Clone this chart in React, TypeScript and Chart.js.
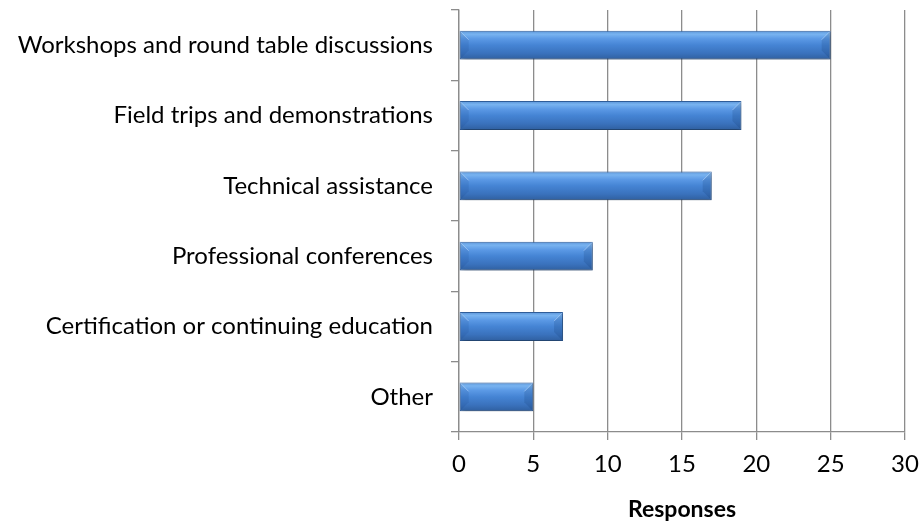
import React, { useEffect, useRef } from "react";
import { Chart, registerables } from "chart.js";

Chart.register(...registerables);

const categories = [
  "Workshops and round table discussions",
  "Field trips and demonstrations",
  "Technical assistance",
  "Professional conferences",
  "Certification or continuing education",
  "Other",
];
const responses = [25, 19, 17, 9, 7, 5];
const xMin = 0;
const xMax = 30;
const xStep = 5;
const xTitle = "Responses";

const FONT = "Lato, 'Open Sans', sans-serif";
const BAR_FRACTION = 0.41;

const shadowPlugin = {
  id: "barShadow",
  beforeDatasetsDraw(chart: any) {
    const c = chart.ctx;
    c.save();
    c.shadowColor = "rgba(0,0,0,0.35)";
    c.shadowBlur = 5;
    c.shadowOffsetX = 1;
    c.shadowOffsetY = 3;
  },
  afterDatasetsDraw(chart: any) {
    const c = chart.ctx;
    c.restore();
    const meta = chart.getDatasetMeta(0);
    meta.data.forEach((bar: any) => {
      const top = bar.y - bar.height / 2;
      const bottom = bar.y + bar.height / 2;
      const left = Math.min(bar.base, bar.x);
      const right = Math.max(bar.base, bar.x);
      const bev = Math.min(9, bar.height / 3);
      c.save();
      // left end: slightly darker face, light top-left wedge
      c.beginPath();
      c.moveTo(left + 0.5, top + 0.5);
      c.lineTo(left + bev, top + bev);
      c.lineTo(left + bev, bottom - bev);
      c.lineTo(left + 0.5, bottom - 0.5);
      c.closePath();
      c.fillStyle = "rgba(20,60,120,0.12)";
      c.fill();
      c.beginPath();
      c.moveTo(left + 0.5, top + 0.5);
      c.lineTo(left + bev, top + bev);
      c.strokeStyle = "rgba(200,225,255,0.5)";
      c.lineWidth = 1;
      c.stroke();
      // right end: darker wedge
      c.beginPath();
      c.moveTo(right - 0.5, top + 0.5);
      c.lineTo(right - bev, top + bev);
      c.lineTo(right - bev, bottom - bev);
      c.lineTo(right - 0.5, bottom - 0.5);
      c.closePath();
      c.fillStyle = "rgba(10,40,90,0.15)";
      c.fill();
      c.beginPath();
      c.moveTo(right - bev, top + bev);
      c.lineTo(right - 0.5, top + 0.5);
      c.strokeStyle = "rgba(200,225,255,0.5)";
      c.stroke();
      c.restore();
    });
  },
};

export default function App() {
  const ref = useRef<HTMLCanvasElement>(null);

  useEffect(() => {
    if (!ref.current) return;
    const chart = new Chart(ref.current, {
      type: "bar",
      data: {
        labels: categories,
        datasets: [
          {
            data: responses,
            backgroundColor: (ctx: any) => {
              const ch = ctx.chart;
              const y = ch.scales && ch.scales.y;
              if (!y || ctx.dataIndex === undefined) return "#4584d4";
              const yc = y.getPixelForValue(ctx.dataIndex);
              const h = (y.height / categories.length) * BAR_FRACTION;
              if (!isFinite(yc) || !isFinite(h) || h <= 0) return "#4584d4";
              const g = ch.ctx.createLinearGradient(0, yc - h / 2, 0, yc + h / 2);
              g.addColorStop(0, "#5b95d9");
              g.addColorStop(0.12, "#78b3f0");
              g.addColorStop(0.28, "#5b99e5");
              g.addColorStop(0.5, "#4584d4");
              g.addColorStop(0.78, "#3a72bd");
              g.addColorStop(1, "#2f5f9f");
              return g;
            },
            borderColor: "#30609e",
            borderWidth: 1,
            borderSkipped: false,
            categoryPercentage: 1,
            barPercentage: BAR_FRACTION,
          },
        ],
      },
      options: {
        indexAxis: "y",
        responsive: false,
        animation: false,
        layout: { padding: { top: 10, right: 14, left: 0, bottom: 0 } },
        plugins: {
          legend: { display: false },
          tooltip: { enabled: false },
        },
        scales: {
          x: {
            min: xMin,
            max: xMax,
            ticks: {
              stepSize: xStep,
              color: "#000",
              padding: 10,
              font: { family: FONT, size: 24 },
            },
            grid: {
              color: "#8c8c8c",
              lineWidth: 1.3,
              tickLength: 8,
              drawTicks: true,
            },
            border: { display: true, color: "#8c8c8c", width: 1.3 },
            title: {
              display: true,
              text: xTitle,
              color: "#000",
              font: { family: FONT, size: 23, weight: "bold" },
              padding: { top: 0, bottom: 0 },
            },
            afterFit: (s: any) => {
              s.height = 91;
              s.paddingLeft = 0;
              s.paddingRight = 0;
            },
          },
          y: {
            ticks: {
              color: "#000",
              padding: 18,
              font: { family: FONT, size: 24 },
            },
            grid: {
              color: "#8c8c8c",
              lineWidth: 1.3,
              drawOnChartArea: false,
              drawTicks: true,
              tickLength: 8,
              offset: true,
            },
            border: { display: true, color: "#8c8c8c", width: 1.3 },
            afterFit: (s: any) => {
              s.width = 459;
              s.paddingTop = 0;
              s.paddingBottom = 0;
            },
          },
        },
      } as any,
      plugins: [shadowPlugin],
    });
    return () => chart.destroy();
  }, []);

  return (
    <div style={{ position: "absolute", left: 0, top: 0, width: 919, height: 523, background: "#fff" }}>
      <canvas ref={ref} width={919} height={523} />
    </div>
  );
}
